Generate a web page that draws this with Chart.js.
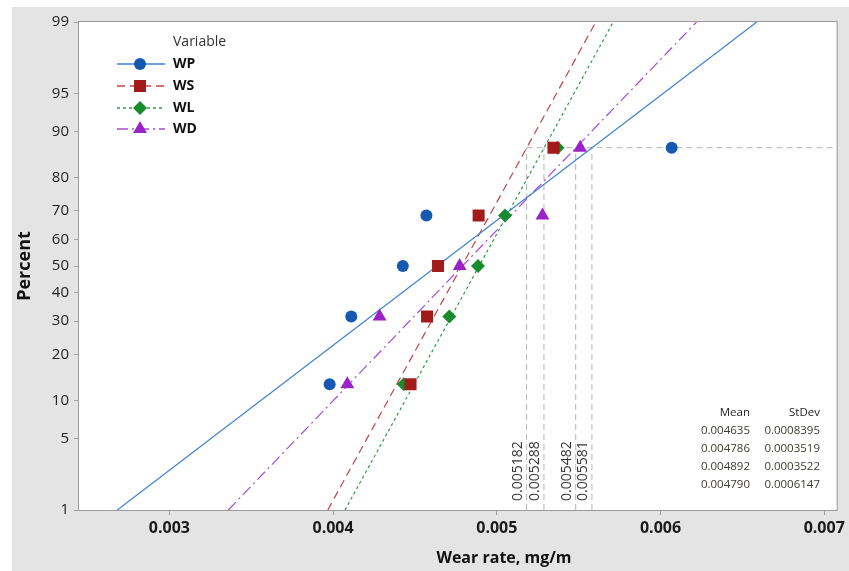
<!DOCTYPE html>
<html>
<head>
<meta charset="utf-8">
<script src="https://cdn.jsdelivr.net/npm/chart.js@4.4.1/dist/chart.umd.min.js"></script>
<style>
  html, body { margin: 0; padding: 0; background: #ffffff; }
  #wrap { width: 849px; height: 571px; position: relative; }
</style>
</head>
<body>
<div id="wrap"><canvas id="c" width="849" height="571"></canvas></div>
<script>
// ---------------- data ----------------
const seriesNames = ['WP', 'WS', 'WL', 'WD'];
const percentLevels = [12.96, 31.48, 50.0, 68.52, 87.04];
const wpValues = [0.003979, 0.004111, 0.004426, 0.004570, 0.006068];
const wsValues = [0.004473, 0.004574, 0.004641, 0.004889, 0.005346];
const wlValues = [0.004432, 0.004710, 0.004885, 0.005050, 0.005371];
const wdValues = [0.004087, 0.004284, 0.004773, 0.005279, 0.005509];
const means = [0.004635, 0.004786, 0.004892, 0.004790];
const stdevs = [0.0008395, 0.0003519, 0.0003522, 0.0006147];
const meanLabels = ['0.004635', '0.004786', '0.004892', '0.004790'];
const stdevLabels = ['0.0008395', '0.0003519', '0.0003522', '0.0006147'];
const refPercent = 87.04;
const refValues = [0.005182, 0.005288, 0.005482, 0.005581];
const refLabels = ['0.005182', '0.005288', '0.005482', '0.005581'];
const yTickPercents = [1, 5, 10, 20, 30, 40, 50, 60, 70, 80, 90, 95, 99];
const xTickValues = [0.003, 0.004, 0.005, 0.006, 0.007];
const xTickLabels = ['0.003', '0.004', '0.005', '0.006', '0.007'];
const xMin = 0.002448, xMax = 0.007076;
const pMin = 1, pMax = 99;

// ---------------- styles ----------------
const colors = ['#1659b0', '#a31a1a', '#178c2c', '#9a22c6'];
const lineColors = ['#3f7fd4', '#c24448', '#2e9e44', '#a64bd6'];
const dashes = [[], [8, 5], [3, 3], [11, 4, 2, 4]];
const shapes = ['circle', 'rect', 'rectRot', 'triangle'];
const radii = [6, 8.5, 7, 8];
const FONT = '"Open Sans", "Liberation Sans", sans-serif';

// inverse normal CDF (Acklam) for probability-scale positioning
function probit(p) {
  const a = [-3.969683028665376e+01, 2.209460984245205e+02, -2.759285104469687e+02, 1.383577518672690e+02, -3.066479806614716e+01, 2.506628277459239e+00];
  const b = [-5.447609879822406e+01, 1.615858368580409e+02, -1.556989798598866e+02, 6.680131188771972e+01, -1.328068155288572e+01];
  const c = [-7.784894002430293e-03, -3.223964580411365e-01, -2.400758277161838e+00, -2.549732539343734e+00, 4.374664141464968e+00, 2.938163982698783e+00];
  const d = [7.784695709041462e-03, 3.224671290700398e-01, 2.445134137142996e+00, 3.754408661907416e+00];
  const pl = 0.02425, ph = 1 - pl;
  let q, r;
  if (p < pl) {
    q = Math.sqrt(-2 * Math.log(p));
    return (((((c[0]*q+c[1])*q+c[2])*q+c[3])*q+c[4])*q+c[5]) / ((((d[0]*q+d[1])*q+d[2])*q+d[3])*q+1);
  } else if (p <= ph) {
    q = p - 0.5; r = q*q;
    return (((((a[0]*r+a[1])*r+a[2])*r+a[3])*r+a[4])*r+a[5])*q / (((((b[0]*r+b[1])*r+b[2])*r+b[3])*r+b[4])*r+1);
  } else {
    q = Math.sqrt(-2 * Math.log(1 - p));
    return -(((((c[0]*q+c[1])*q+c[2])*q+c[3])*q+c[4])*q+c[5]) / ((((d[0]*q+d[1])*q+d[2])*q+d[3])*q+1);
  }
}
const zOf = p => probit(p / 100);
const zMin = zOf(pMin), zMax = zOf(pMax);
const zRef = zOf(refPercent);

const allValues = [wpValues, wsValues, wlValues, wdValues];
const datasets = [];

// fitted lines (mean + z*sd)
seriesNames.forEach((name, i) => {
  datasets.push({
    label: name + ' fit', type: 'line',
    data: [{ x: means[i] + zMin * stdevs[i], y: zMin }, { x: means[i] + zMax * stdevs[i], y: zMax }],
    borderColor: lineColors[i], borderWidth: 1.2, borderDash: dashes[i],
    pointRadius: 0, showLine: true, fill: false, order: 5
  });
});
// reference lines
refValues.forEach(v => {
  datasets.push({
    label: 'ref', type: 'line',
    data: [{ x: v, y: zMin }, { x: v, y: zRef }],
    borderColor: '#b4b4b4', borderWidth: 1, borderDash: [6, 4],
    pointRadius: 0, showLine: true, fill: false, order: 6
  });
});
datasets.push({
  label: 'refH', type: 'line',
  data: [{ x: refValues[0], y: zRef }, { x: xMax, y: zRef }],
  borderColor: '#b4b4b4', borderWidth: 1, borderDash: [6, 4],
  pointRadius: 0, showLine: true, fill: false, order: 6
});
// points
seriesNames.forEach((name, i) => {
  datasets.push({
    label: name, type: 'scatter',
    data: allValues[i].map((v, k) => ({ x: v, y: zOf(percentLevels[k]) })),
    backgroundColor: colors[i], borderColor: colors[i], borderWidth: 0,
    pointStyle: shapes[i], pointRadius: radii[i], pointHoverRadius: radii[i],
    showLine: false, order: 1
  });
});

function drawShape(ctx, shape, r, x, y) {
  if (shape === 'circle') { ctx.arc(x, y, r, 0, Math.PI * 2); }
  else if (shape === 'rect') { const s = r * Math.SQRT1_2; ctx.rect(x - s, y - s, 2 * s, 2 * s); }
  else if (shape === 'rectRot') { const s = r; ctx.moveTo(x - s, y); ctx.lineTo(x, y + s); ctx.lineTo(x + s, y); ctx.lineTo(x, y - s); ctx.closePath(); }
  else if (shape === 'triangle') { const h = r; ctx.moveTo(x, y - h); ctx.lineTo(x + h * 0.866, y + h * 0.5); ctx.lineTo(x - h * 0.866, y + h * 0.5); ctx.closePath(); }
}

const decor = {
  id: 'decor',
  beforeDraw(chart) {
    const ctx = chart.ctx, a = chart.chartArea;
    ctx.save();
    ctx.fillStyle = '#ffffff';
    ctx.fillRect(0, 0, chart.width, chart.height);
    ctx.fillStyle = '#e4e4e4';
    ctx.fillRect(12, 7, chart.width - 12, chart.height - 7);
    ctx.fillStyle = '#ffffff';
    ctx.fillRect(a.left, a.top, a.right - a.left, a.bottom - a.top);
    ctx.restore();
  },
  afterDraw(chart) {
    const ctx = chart.ctx, a = chart.chartArea;
    const xs = chart.scales.x;
    ctx.save();
    // frame
    ctx.strokeStyle = '#9a9a9a'; ctx.lineWidth = 1;
    ctx.strokeRect(a.left - 0.5, a.top - 0.5, a.right - a.left + 1, a.bottom - a.top + 1);

    // axis titles
    ctx.fillStyle = '#111';
    ctx.font = 'bold 16px ' + FONT;
    ctx.textAlign = 'center'; ctx.textBaseline = 'middle';
    ctx.fillText('Wear rate, mg/m', 504, 558);
    ctx.save();
    ctx.translate(25, 266); ctx.rotate(-Math.PI / 2);
    ctx.font = 'bold 18px ' + FONT;
    ctx.fillText('Percent', 0, 0);
    ctx.restore();

    // legend
    ctx.textAlign = 'left'; ctx.textBaseline = 'middle';
    ctx.fillStyle = '#333';
    ctx.font = '14px ' + FONT;
    ctx.fillText('Variable', 173, 42);
    const ly = [64, 86, 108, 129];
    seriesNames.forEach((name, i) => {
      ctx.save();
      ctx.strokeStyle = lineColors[i]; ctx.lineWidth = 1.4;
      ctx.setLineDash(dashes[i]);
      ctx.beginPath(); ctx.moveTo(117, ly[i]); ctx.lineTo(165, ly[i]); ctx.stroke();
      ctx.restore();
      ctx.save();
      ctx.fillStyle = colors[i];
      ctx.beginPath();
      drawShape(ctx, shapes[i], radii[i], 140, ly[i]);
      ctx.fill();
      ctx.restore();
      ctx.fillStyle = '#111';
      ctx.font = 'bold 14px ' + FONT;
      ctx.fillText(name, 173, ly[i]);
    });

    // reference value labels (vertical)
    ctx.fillStyle = '#333';
    ctx.font = '14px ' + FONT;
    refValues.forEach((v, i) => {
      const px = xs.getPixelForValue(v);
      ctx.save();
      ctx.translate(px - 9, 501); ctx.rotate(-Math.PI / 2);
      ctx.textAlign = 'left'; ctx.textBaseline = 'middle';
      ctx.fillText(refLabels[i], 0, 0);
      ctx.restore();
    });

    // stats table
    ctx.font = '11.5px ' + FONT;
    ctx.textAlign = 'right'; ctx.textBaseline = 'middle';
    ctx.fillStyle = '#222';
    ctx.fillText('Mean', 750, 413);
    ctx.fillText('StDev', 820, 413);
    ctx.fillStyle = '#3d3a30';
    const ty = [431, 449, 467, 485];
    meanLabels.forEach((m, i) => {
      ctx.fillText(m, 750, ty[i]);
      ctx.fillText(stdevLabels[i], 820, ty[i]);
    });
    ctx.restore();
  }
};

new Chart(document.getElementById('c'), {
  type: 'scatter',
  data: { datasets },
  options: {
    responsive: false, animation: false, devicePixelRatio: 1,
    layout: { padding: { left: 0, right: 11, top: 22, bottom: 0 } },
    plugins: { legend: { display: false }, tooltip: { enabled: false }, title: { display: false } },
    scales: {
      x: {
        type: 'linear', min: xMin, max: xMax,
        afterFit(s) { s.height = 61; },
        afterBuildTicks(s) { s.ticks = xTickValues.map(v => ({ value: v })); },
        ticks: {
          callback: (v, i) => xTickLabels[i],
          font: { family: FONT, size: 16, weight: 'bold' }, color: '#1a1a1a', padding: 4, maxRotation: 0
        },
        grid: { drawOnChartArea: false, drawTicks: true, tickLength: 5, color: '#a0a0a0' },
        border: { display: false }
      },
      y: {
        type: 'linear', min: zMin, max: zMax,
        afterFit(s) { s.width = 79; },
        afterBuildTicks(s) { s.ticks = yTickPercents.map(p => ({ value: zOf(p) })); },
        ticks: {
          callback: (v, i) => String(yTickPercents[i]),
          font: { family: FONT, size: 15 }, color: '#222', padding: 5, autoSkip: false
        },
        grid: { drawOnChartArea: false, drawTicks: true, tickLength: 5, color: '#a0a0a0' },
        border: { display: false }
      }
    }
  },
  plugins: [decor]
});
</script>
</body>
</html>
